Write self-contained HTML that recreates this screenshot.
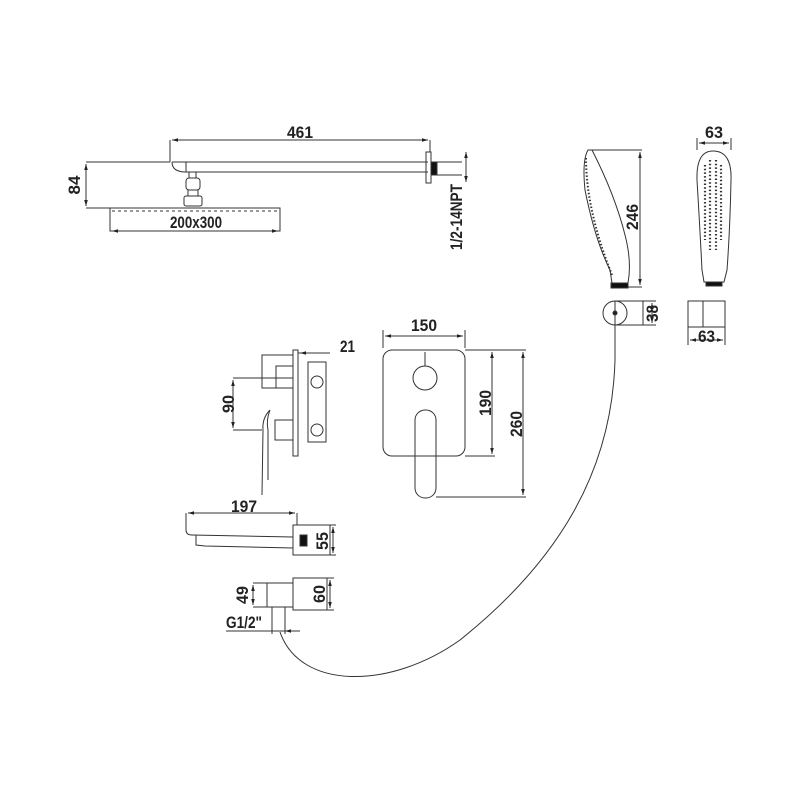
<!DOCTYPE html>
<html><head><style>
html,body{margin:0;padding:0;background:#fff;}
svg{display:block;}
text{font-family:"Liberation Sans",sans-serif;font-weight:bold;fill:#222;font-size:17px;}
</style></head><body>
<svg width="800" height="800" viewBox="0 0 800 800" xmlns="http://www.w3.org/2000/svg">
<defs>
<marker id="a" viewBox="0 0 10 10" refX="10" refY="5" markerWidth="6" markerHeight="6" orient="auto-start-reverse"><path d="M0,2 L10,5 L0,8z" fill="#222"/></marker>
</defs>
<g fill="none" stroke="#333" stroke-width="1">
<path d="M172,162 L428,162 M186,172 L428,172 M172,162 Q172,172 186,172 M186,162 L186,172"/>
<rect x="426" y="152" width="5" height="31"/>
<rect x="431" y="162" width="6" height="13" fill="#111"/>
<path d="M437,162 L462,162 M437,175 L462,175"/>
<path d="M170,162 L170,140 M430,152 L430,140"/>
<path d="M172,140 L428,140" marker-start="url(#a)" marker-end="url(#a)"/>
<path d="M466,152 L466,182" marker-start="url(#a)" marker-end="url(#a)"/>
<path d="M189,172 L189,178 M196,172 L196,178"/>
<rect x="186" y="178" width="14" height="12" rx="3"/>
<rect x="188" y="190" width="10" height="6"/>
<rect x="184" y="196" width="18" height="10" rx="2"/>
<rect x="110" y="208" width="170" height="23"/>
<path d="M112,211 L278,211" stroke-dasharray="3,3"/>
<path d="M86,162 L170,162 M86,208 L110,208"/>
<path d="M86,164 L86,206" marker-start="url(#a)" marker-end="url(#a)"/>
<path d="M112,231 L278,231" marker-start="url(#a)" marker-end="url(#a)"/>
<path d="M588,150 Q582,160 585,190 Q595,240 610,270 L612,283 L628,283 Q632,262 625,235 Q615,195 592,150 Z"/>
<path d="M586,158 Q586,210 612,275" stroke-dasharray="1.5,2" stroke-width="2"/>
<rect x="611" y="283" width="17" height="5" fill="#111"/>
<path d="M590,150 L642,150 M628,287 L642,287"/>
<path d="M640,152 L640,285" marker-start="url(#a)" marker-end="url(#a)"/>
<path d="M713,151 Q696,151 697,180 Q700,230 702,270 L704,282 L724,282 L727,270 Q730,230 731,180 Q732,151 713,151 Z"/>
<g stroke-dasharray="1.5,2.2" stroke-width="2.2">
<path d="M705,165 L705,240 M710,160 L710,250 M716,160 L716,250 M721,165 L721,240"/>
</g>
<rect x="706" y="282" width="16" height="4" fill="#111"/>
<path d="M697,150 L697,138 M731,150 L731,138"/>
<path d="M699,143 L729,143" marker-start="url(#a)" marker-end="url(#a)"/>
<circle cx="615" cy="313" r="12"/>
<circle cx="615" cy="313" r="2" fill="#111"/>
<rect x="615" y="301" width="28" height="24"/>
<path d="M643,301 L656,301 M643,325 L656,325"/>
<path d="M652,303 L652,323" marker-start="url(#a)" marker-end="url(#a)"/>
<rect x="688" y="301" width="37" height="26"/>
<path d="M703,301 L703,327 M688,327 L688,345 M725,327 L725,345"/>
<path d="M690,340 L723,340" marker-start="url(#a)" marker-end="url(#a)"/>
<path d="M615,325 L615,360 C612,470 560,560 460,640 C390,690 300,690 280,632"/>
<rect x="293" y="350" width="5" height="106"/>
<rect x="262" y="355" width="31" height="33"/>
<rect x="276" y="366" width="17" height="22"/>
<rect x="308" y="362" width="18" height="80"/>
<circle cx="317" cy="382" r="6"/>
<circle cx="317" cy="430" r="6"/>
<rect x="275" y="420" width="18" height="20"/>
<path d="M270,410 Q262,418 263,430 L262,495 M270,410 Q266,420 268,430 L268,480"/>
<path d="M298,353 L330,353"/>
<path d="M300,353 L328,353" marker-start="url(#a)"/>
<path d="M233,378 L293,378 M233,430 L262,430"/>
<path d="M233,380 L233,428" marker-start="url(#a)" marker-end="url(#a)"/>
<rect x="383" y="350" width="82" height="106" rx="9"/>
<path d="M425,352 L425,366"/>
<circle cx="425" cy="378" r="12"/>
<rect x="415" y="410" width="21" height="88" rx="10"/>
<path d="M383,348 L383,330 M465,348 L465,330"/>
<path d="M385,336 L463,336" marker-start="url(#a)" marker-end="url(#a)"/>
<path d="M465,350 L526,350 M465,456 L495,456 M436,497 L526,497"/>
<path d="M492,352 L492,454" marker-start="url(#a)" marker-end="url(#a)"/>
<path d="M523,352 L523,495" marker-start="url(#a)" marker-end="url(#a)"/>
<path d="M186,513 L186,530 Q186,535 192,535 L293,537 M196,535 L196,545 L205,546 L293,548"/>
<rect x="293" y="525" width="37" height="30"/>
<rect x="300" y="535" width="7" height="11" fill="#111"/>
<path d="M297,513 L297,525 M330,525 L336,525 M330,555 L336,555"/>
<path d="M188,513 L295,513" marker-start="url(#a)" marker-end="url(#a)"/>
<path d="M333,527 L333,553" marker-start="url(#a)" marker-end="url(#a)"/>
<rect x="267" y="583" width="26" height="24"/>
<rect x="293" y="578" width="34" height="32"/>
<path d="M253,583 L267,583 M253,607 L267,607 M327,578 L334,578 M327,610 L334,610"/>
<path d="M253,585 L253,605" marker-start="url(#a)" marker-end="url(#a)"/>
<path d="M330,580 L330,608" marker-start="url(#a)" marker-end="url(#a)"/>
<path d="M272,607 L272,634 M285,607 L285,634"/>
<path d="M226,631 L300,631"/>
<path d="M262,631 L272,631 M295,631 L285,631" marker-end="url(#a)"/>
</g>
<text x="287" y="138" textLength="26" lengthAdjust="spacingAndGlyphs">461</text>
<text x="170" y="228" textLength="52" lengthAdjust="spacingAndGlyphs" font-size="16">200x300</text>
<text transform="translate(80,185) rotate(-90)" text-anchor="middle">84</text>
<text transform="translate(462,250) rotate(-90)" textLength="66" lengthAdjust="spacingAndGlyphs" font-size="15">1/2-14NPT</text>
<text x="705" y="138" textLength="18" lengthAdjust="spacingAndGlyphs">63</text>
<text transform="translate(638,230) rotate(-90)" textLength="26" lengthAdjust="spacingAndGlyphs">246</text>
<text transform="translate(658,322) rotate(-90)" textLength="17" lengthAdjust="spacingAndGlyphs">38</text>
<text x="698" y="342" textLength="17" lengthAdjust="spacingAndGlyphs">63</text>
<text x="340" y="352" textLength="15" lengthAdjust="spacingAndGlyphs">21</text>
<text transform="translate(234,413) rotate(-90)" textLength="18" lengthAdjust="spacingAndGlyphs">90</text>
<text x="411" y="331" textLength="26" lengthAdjust="spacingAndGlyphs">150</text>
<text transform="translate(491,416) rotate(-90)" textLength="26" lengthAdjust="spacingAndGlyphs">190</text>
<text transform="translate(522,437) rotate(-90)" textLength="26" lengthAdjust="spacingAndGlyphs">260</text>
<text x="231" y="512" textLength="26" lengthAdjust="spacingAndGlyphs">197</text>
<text transform="translate(328,550) rotate(-90)" textLength="18" lengthAdjust="spacingAndGlyphs">55</text>
<text transform="translate(248,604) rotate(-90)" textLength="18" lengthAdjust="spacingAndGlyphs">49</text>
<text transform="translate(325,603) rotate(-90)" textLength="18" lengthAdjust="spacingAndGlyphs">60</text>
<text x="226" y="628" textLength="36" lengthAdjust="spacingAndGlyphs" font-size="15">G1/2"</text>
</svg>
</body></html>
